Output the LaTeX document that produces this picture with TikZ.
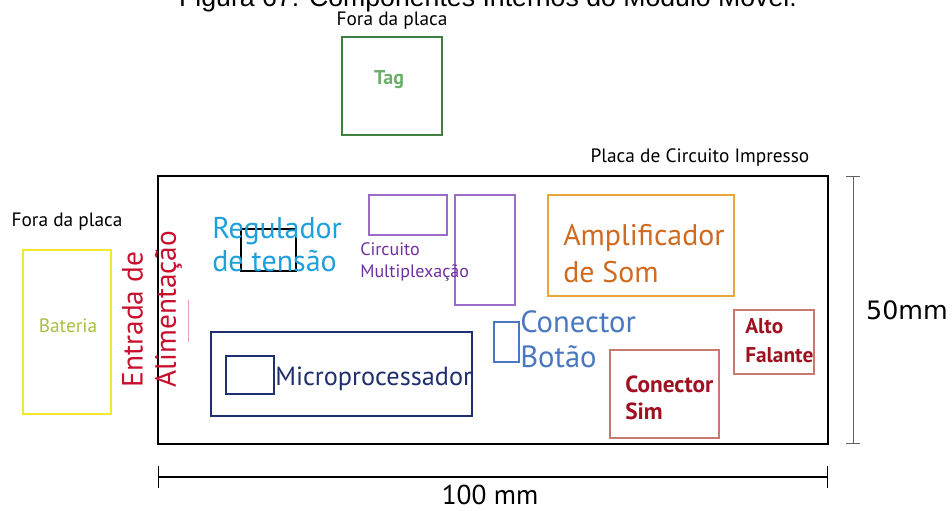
\documentclass[tikz,border=0pt]{standalone}
\usepackage{fontspec}
\setmainfont{PT Sans}
\newfontfamily\capfont{Liberation Sans}
\newfontfamily\dimfont{DejaVu Sans}
\usetikzlibrary{arrows.meta,positioning}

\definecolor{tagGreen}{HTML}{3F8040}
\definecolor{tagText}{HTML}{6AB06A}
\definecolor{batYellow}{HTML}{F2E830}
\definecolor{batText}{HTML}{A8C040}
\definecolor{inRed}{HTML}{C8102E}
\definecolor{regCyan}{HTML}{1EA0DC}
\definecolor{muxText}{HTML}{7030A0}
\definecolor{muxBox}{HTML}{9B6DC6}
\definecolor{ampBox}{HTML}{E8A838}
\definecolor{ampText}{HTML}{D06A20}
\definecolor{btnBlue}{HTML}{4A78C0}
\definecolor{mcuNavy}{HTML}{1F2F6F}
\definecolor{simBox}{HTML}{C87A70}
\definecolor{simText}{HTML}{A01020}
\definecolor{dimGray}{HTML}{606060}

\begin{document}
\begin{tikzpicture}[
x=0.75pt, y=-0.75pt,
part/.style={draw, inner sep=0pt, line width=0.9pt},
lbl/.style={inner sep=0pt, align=left, anchor=base west},
dimline/.style={line width=0.9pt}
]
\useasboundingbox (0,0) rectangle (952,510);

% caption (cut at the top, as in the source)
\node[inner sep=0pt, anchor=base, font=\capfont\fontsize{20}{22}\selectfont] (cap) at (488,7) {Figura 67: Componentes Internos do Módulo Móvel.};

% outside the board
\node[inner sep=0pt, font=\fontsize{14.5}{16}\selectfont] (fora1) at (392,21) {Fora da placa};
\node[part, draw=tagGreen, minimum width=75pt, minimum height=73.5pt] (tag) at (392,86) {};
\node[text=tagText, font=\bfseries\fontsize{15}{17}\selectfont] (tagtxt) at (389,80) {Tag};

\node[inner sep=0pt, font=\fontsize{14.5}{16}\selectfont] (fora2) at (67,222) {Fora da placa};
\node[part, draw=batYellow, minimum width=66pt, minimum height=123pt] (bat) at (67,332) {};
\node[text=batText, font=\fontsize{14.5}{16}\selectfont] (battxt) at (68,326) {Bateria};

% board
\node[inner sep=0pt, font=\fontsize{14.5}{16}\selectfont] (pcbtxt) at (700,158) {Placa de Circuito Impresso};
\node[draw, inner sep=0pt, line width=1.5pt, minimum width=502.5pt, minimum height=201pt] (pcb) at (493,310) {};

\node[text=inRed, rotate=90, align=left, inner sep=0pt, font=\fontsize{22}{25}\selectfont] (power) at (152,309)
  {Entrada de\\Alimentação};
\coordinate (pw1) at (188,300);
\coordinate (pw2) at (188,342);
\draw[color=inRed!40, line width=0.6pt] (pw1) -- (pw2);

% labels are placed by the baseline of their last line
\node[part, minimum width=41.25pt, minimum height=31.5pt] (reg) at (268.5,250) {};
\node[lbl, text=regCyan, font=\fontsize{22.5}{24.75}\selectfont] (regtxt) at (212,271) {Regulador\\de tensão};

\node[part, draw=muxBox, minimum width=58.5pt, minimum height=30pt] (mux1) at (408,215) {};
\node[part, draw=muxBox, minimum width=45pt, minimum height=82.5pt] (mux2) at (485,250) {};
\node[lbl, text=muxText, font=\fontsize{13.5}{16.5}\selectfont] (muxtxt) at (360,277) {Circuito\\Multiplexação};

\node[part, draw=ampBox, line width=1.2pt, minimum width=139.5pt, minimum height=75.75pt] (amp) at (641,245.5) {};
\node[lbl, text=ampText, font=\fontsize{22.4}{27.75}\selectfont] (amptxt) at (563,282) {Amplificador\\de Som};

\node[part, draw=btnBlue, minimum width=18.75pt, minimum height=30pt] (btn) at (506.5,342) {};
\node[lbl, text=btnBlue, font=\fontsize{23}{26.25}\selectfont] (btntxt) at (520,367) {Conector\\Botão};

\node[part, draw=mcuNavy, line width=1.1pt, minimum width=195.75pt, minimum height=63pt] (mcu) at (341.5,374) {};
\node[part, draw=mcuNavy, line width=1.1pt, minimum width=36pt, minimum height=28.5pt] (chip) at (250,375) {};
\node[lbl, text=mcuNavy, font=\fontsize{19.7}{22}\selectfont] (mcutxt) at (275,385) {Microprocessador};

\node[part, draw=simBox, minimum width=81.75pt, minimum height=66pt] (sim) at (664.5,394) {};
\node[lbl, text=simText, font=\bfseries\fontsize{17.5}{20.25}\selectfont] (simtxt) at (625,419) {Conector\\Sim};

\node[part, draw=simBox, minimum width=60pt, minimum height=48pt] (spk) at (774,342) {};
\node[lbl, text=simText, font=\bfseries\fontsize{16}{21.75}\selectfont] (spktxt) at (745,362) {Alto\\Falante};

% dimensions
\coordinate (h1) at (853,176);
\coordinate (h2) at (853,444);
\draw[dimline, color=dimGray, line width=0.6pt, {Bar[width=10.5pt]}-{Bar[width=10.5pt]}] (h1) -- (h2);
\node[inner sep=0pt, font=\dimfont\fontsize{19}{21}\selectfont] (hlbl) at (907,310) {50mm};

\coordinate (w1) at (158,477);
\coordinate (w2) at (828,477);
\draw[dimline, {Bar[width=16pt]}-{Bar[width=16pt]}] (w1) -- (w2);
\node[inner sep=0pt, font=\fontsize{20.5}{22}\selectfont] (wlbl) at (490,495) {100 mm};
\end{tikzpicture}
\end{document}
